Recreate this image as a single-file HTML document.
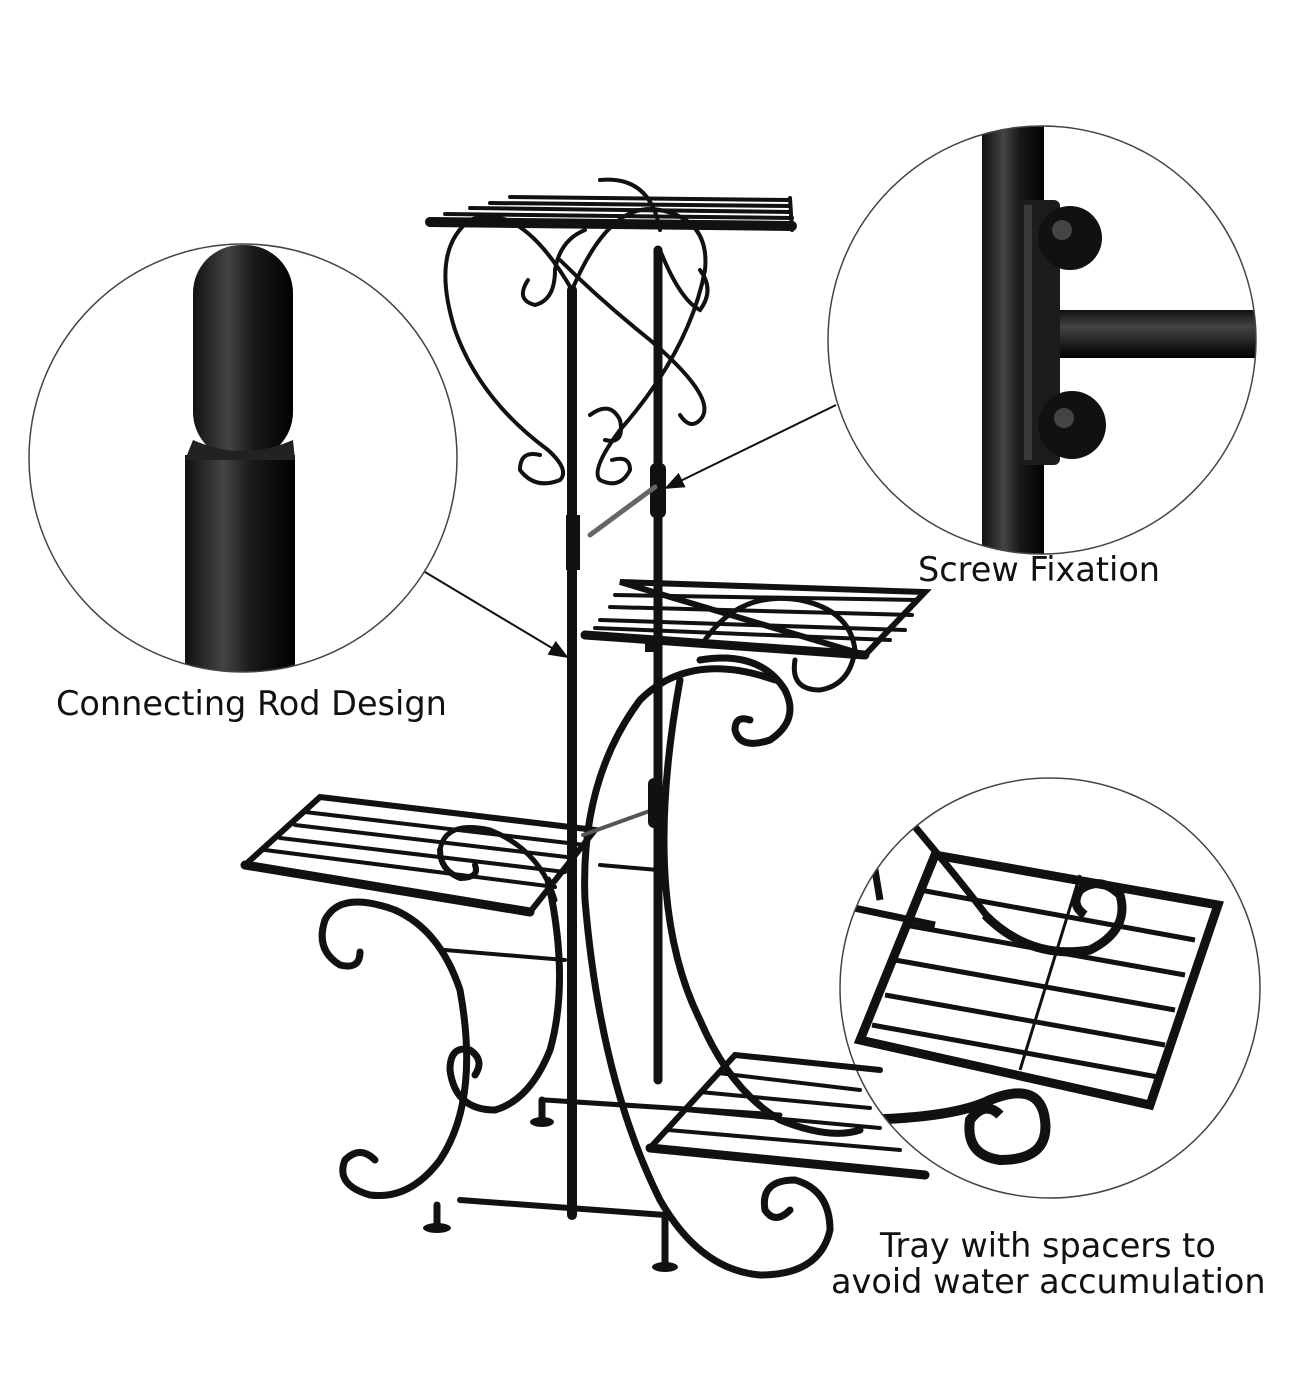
<!DOCTYPE html>
<html><head><meta charset="utf-8"><style>
html,body{margin:0;padding:0;background:#fff;}
svg{display:block}
text{font-family:"DejaVu Sans","Liberation Sans",sans-serif;fill:#111;}
</style></head><body>
<svg width="1290" height="1394" viewBox="0 0 1290 1394" xmlns="http://www.w3.org/2000/svg">
<defs>
<linearGradient id="rod" x1="0" x2="1"><stop offset="0" stop-color="#111"/><stop offset="0.35" stop-color="#444"/><stop offset="0.6" stop-color="#1a1a1a"/><stop offset="1" stop-color="#000"/></linearGradient>
<linearGradient id="hrod" x1="0" y1="0" x2="0" y2="1"><stop offset="0" stop-color="#111"/><stop offset="0.35" stop-color="#444"/><stop offset="1" stop-color="#000"/></linearGradient>
<clipPath id="c1"><circle cx="243" cy="458" r="214"/></clipPath>
<clipPath id="c2"><circle cx="1042" cy="340" r="214"/></clipPath>
<clipPath id="c3"><circle cx="1050" cy="988" r="210"/></clipPath>
<marker id="ar" markerWidth="10" markerHeight="10" refX="9" refY="5" orient="auto"><path d="M0,1 L10,5 L0,9 Z" fill="#111"/></marker>
</defs>

<g clip-path="url(#c1)">
<rect x="193" y="245" width="100" height="215" fill="url(#rod)" rx="48"/>
<rect x="185" y="455" width="110" height="230" fill="url(#rod)"/>
<path d="M193 440 Q243 462 293 440 L295 460 L185 460 Z" fill="#222"/>
</g>
<circle cx="243" cy="458" r="214" fill="none" stroke="#444" stroke-width="1.5"/>

<g clip-path="url(#c2)">
<rect x="982" y="100" width="62" height="460" fill="url(#rod)"/>
<rect x="1040" y="310" width="220" height="48" fill="url(#hrod)" rx="6"/>
<rect x="1018" y="200" width="42" height="265" fill="#1c1c1c" rx="6"/>
<rect x="1024" y="205" width="8" height="255" fill="#3a3a3a"/>
<circle cx="1070" cy="238" r="32" fill="#111"/><circle cx="1062" cy="230" r="10" fill="#444"/>
<circle cx="1072" cy="425" r="34" fill="#111"/><circle cx="1064" cy="418" r="10" fill="#444"/>
</g>
<circle cx="1042" cy="340" r="214" fill="none" stroke="#444" stroke-width="1.5"/>

<g clip-path="url(#c3)">
<g fill="none" stroke="#111" stroke-width="7">
<path d="M905 815 Q960 880 990 920"/>
<path d="M870 840 L880 900"/>
<path d="M840 905 L935 925"/>
<path d="M935 855 L1218 905 L1150 1105 L860 1040 Z" stroke-width="9"/>
<path d="M920 890 L1195 940 M905 925 L1185 975 M895 960 L1175 1010 M885 995 L1165 1045 M872 1025 L1158 1077" stroke-width="5"/>
<path d="M1080 875 L1020 1070" stroke-width="3"/>
<path d="M985 915 Q1030 960 1090 950 Q1130 930 1120 895 Q1100 875 1080 890 Q1070 905 1085 915" stroke-width="9"/>
<path d="M840 1120 Q950 1120 990 1100 Q1040 1080 1045 1120 Q1050 1160 1000 1160 Q965 1155 970 1120 Q985 1100 1000 1115" stroke-width="10"/>
</g>
</g>
<circle cx="1050" cy="988" r="210" fill="none" stroke="#444" stroke-width="1.5"/>

<g fill="none" stroke="#111" stroke-linecap="round">
<path d="M430 222 L792 226" stroke-width="10"/>
<path d="M445 214 L792 218 M470 208 L790 212 M490 203 L790 206 M510 197 L790 200" stroke-width="4"/>
<path d="M790 198 L792 230" stroke-width="4"/>
<g stroke-width="4">
<path d="M572 290 Q520 200 470 220 Q430 250 455 330 Q480 400 548 450 Q570 470 560 480 Q535 490 520 470 Q520 450 540 455"/>
<path d="M572 290 Q610 200 660 210 Q710 220 705 270 Q690 350 620 430 Q590 470 600 480 Q620 490 630 470 Q630 455 612 460"/>
<path d="M585 230 Q560 240 555 270 Q555 300 535 305 Q515 300 528 280"/>
<path d="M660 250 Q680 300 700 310 Q715 290 700 270"/>
<path d="M560 260 Q600 300 650 340 Q720 400 700 420 Q690 430 680 415"/>
<path d="M600 180 Q650 175 660 230"/>
<path d="M590 415 Q610 400 620 420 Q625 445 605 440"/>
</g>
<path d="M572 290 L572 1215" stroke-width="10"/>
<path d="M658 250 L658 1080" stroke-width="9"/>
<rect x="566" y="515" width="14" height="55" fill="#111" stroke="none"/>
<rect x="650" y="463" width="16" height="55" rx="6" fill="#111" stroke="none"/>
<path d="M590 535 L655 487" stroke="#666" stroke-width="5"/>
<path d="M585 635 L865 655" stroke-width="9"/>
<path d="M865 655 L925 592 L620 582 Z" stroke-width="6"/>
<path d="M600 620 L905 630 M610 607 L912 615 M615 595 L918 600 M595 628 L890 640" stroke-width="4"/>
<path d="M705 640 Q740 590 800 600 Q850 610 855 650" stroke-width="5"/>
<path d="M795 660 Q790 690 820 690 Q850 685 855 650" stroke-width="5"/>
<path d="M775 680 Q690 650 640 700 Q580 780 585 900 Q600 1080 660 1200 Q700 1270 760 1275 Q820 1275 830 1230 Q830 1190 795 1180 Q760 1180 765 1210 Q775 1225 790 1210" stroke-width="7"/>
<path d="M680 680 Q640 900 700 1020 Q730 1090 780 1120 Q830 1140 860 1130" stroke-width="7"/>
<path d="M700 660 Q760 650 785 690 Q800 720 770 740 Q740 750 735 730 Q735 715 750 720" stroke-width="7"/>
<path d="M245 865 L530 912" stroke-width="9"/>
<path d="M245 865 L320 797 L595 830 L530 912" stroke-width="6"/>
<path d="M265 850 L555 887 M280 838 L565 872 M295 825 L575 858 M305 812 L585 845" stroke-width="4"/>
<path d="M440 850 Q440 870 460 878 Q480 878 475 865" stroke-width="6"/>
<path d="M440 850 Q445 820 490 830 Q540 850 555 900" stroke-width="5"/>
<path d="M395 910 Q440 930 460 990 Q480 1100 440 1160 Q410 1200 370 1195 Q335 1185 345 1160 Q360 1145 375 1160" stroke-width="7"/>
<path d="M395 910 Q340 890 325 920 Q315 950 340 965 Q360 970 360 952" stroke-width="7"/>
<path d="M548 880 Q570 980 550 1050 Q530 1100 495 1110 Q455 1110 450 1070 Q450 1045 470 1050 Q485 1060 475 1075" stroke-width="7"/>
<path d="M445 950 L565 960" stroke-width="4"/>
<path d="M583 835 L658 808" stroke="#555" stroke-width="4"/>
<path d="M600 865 L658 870" stroke-width="4"/>
<path d="M460 1200 L665 1215" stroke-width="6"/>
<path d="M545 1100 L780 1115" stroke-width="5"/>
<path d="M650 1148 L925 1175" stroke-width="9"/>
<path d="M650 1148 L735 1055 L880 1070" stroke-width="6"/>
<path d="M668 1130 L900 1150 M685 1110 L880 1128 M700 1092 L870 1108 M718 1073 L860 1090" stroke-width="4"/>
<path d="M437 1205 L437 1225 M542 1100 L542 1120 M665 1215 L665 1265" stroke-width="7"/>
</g>
<ellipse cx="437" cy="1228" rx="14" ry="5" fill="#111"/>
<ellipse cx="542" cy="1122" rx="12" ry="5" fill="#111"/>
<ellipse cx="665" cy="1267" rx="13" ry="5" fill="#111"/>
<rect x="645" y="640" width="12" height="12" fill="#111"/>
<rect x="648" y="778" width="14" height="50" rx="6" fill="#111"/>

<path d="M836 405 L666 488" stroke="#111" stroke-width="2" fill="none" marker-end="url(#ar)"/>
<path d="M425 572 L567 657" stroke="#111" stroke-width="2" fill="none" marker-end="url(#ar)"/>

<text x="918" y="581" font-size="33.5">Screw Fixation</text>
<text x="56" y="715" font-size="33.5">Connecting Rod Design</text>
<text x="880" y="1257" font-size="33.5">Tray with spacers to</text>
<text x="831" y="1293" font-size="33.5">avoid water accumulation</text>
</svg>
</body></html>
